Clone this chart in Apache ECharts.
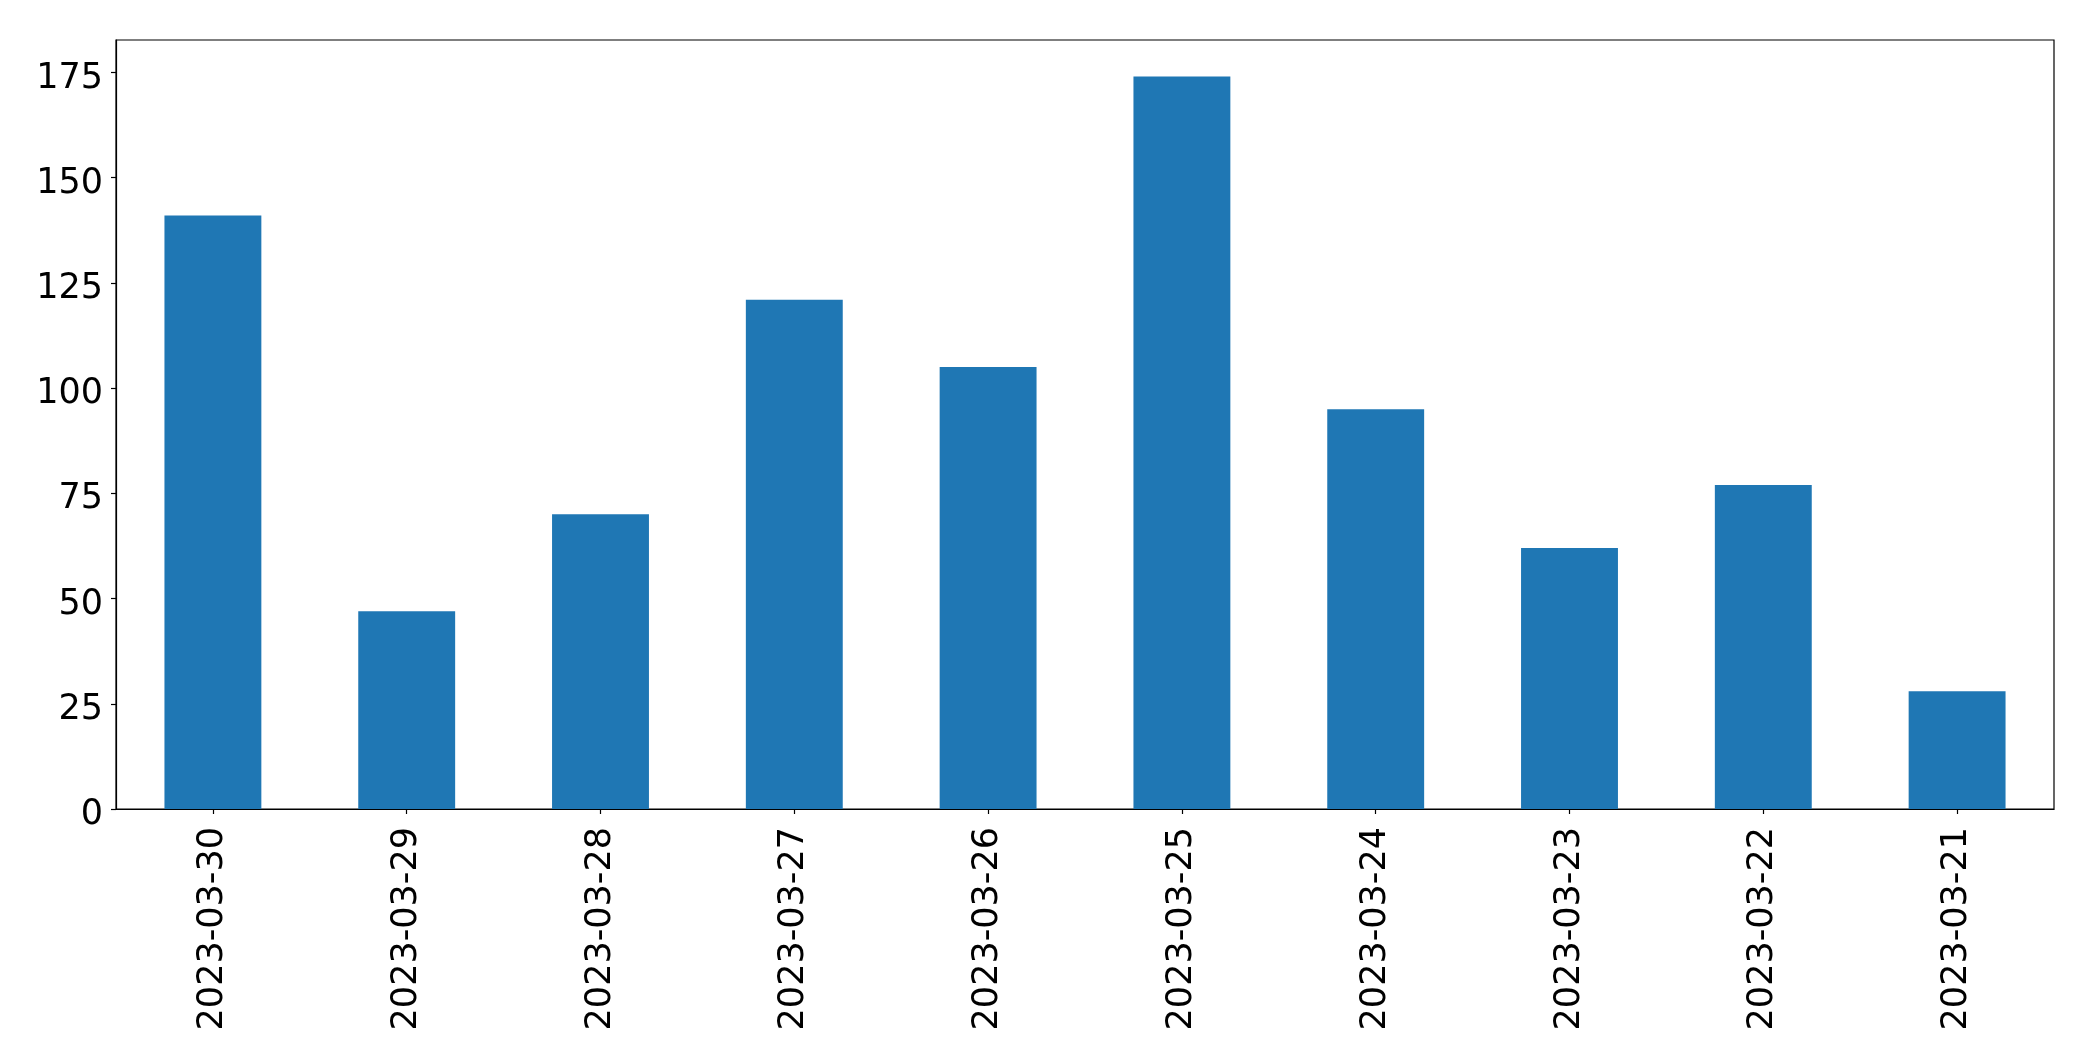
<!DOCTYPE html>
<html>
<head>
<meta charset="utf-8">
<script src="https://cdn.jsdelivr.net/npm/echarts@6/dist/echarts.min.js"></script>
<style>
html, body { margin: 0; padding: 0; background: #fff; }
#chart { width: 2093px; height: 1061px; }
</style>
</head>
<body>
<div id="chart"></div>
<script>
const categories = ['2023-03-30', '2023-03-29', '2023-03-28', '2023-03-27', '2023-03-26', '2023-03-25', '2023-03-24', '2023-03-23', '2023-03-22', '2023-03-21'];
const values = [141, 47, 70, 121, 105, 174, 95, 62, 77, 28];
const yTicks = [0, 25, 50, 75, 100, 125, 150, 175];

const chart = echarts.init(document.getElementById('chart'), null, { renderer: 'canvas' });
const font = 'DejaVu Sans';
chart.setOption({
  animation: false,
  backgroundColor: '#ffffff',
  grid: {
    left: 116, right: 39, top: 40, bottom: 252,
    show: true, borderColor: '#000', borderWidth: 1.2, backgroundColor: 'transparent'
  },
  xAxis: {
    type: 'category',
    data: categories,
    boundaryGap: true,
    axisLine: { show: true, lineStyle: { color: '#000', width: 1.2 } },
    axisTick: { show: true, alignWithLabel: true, length: 5, lineStyle: { color: '#000', width: 1.2 } },
    axisLabel: { rotate: 90, fontFamily: font, fontSize: 35, color: '#000', margin: 18, interval: 0 },
    splitLine: { show: false }
  },
  yAxis: {
    type: 'value',
    min: 0,
    max: 182.7,
    interval: 25,
    axisLine: { show: true, lineStyle: { color: '#000', width: 1.2 } },
    axisTick: { show: true, length: 5, customValues: yTicks, lineStyle: { color: '#000', width: 1.2 } },
    axisLabel: {
      fontFamily: font, fontSize: 35, color: '#000', margin: 13, customValues: yTicks,
      formatter: function (v) { return '{a|' + v + '}'; },
      rich: { a: { fontFamily: font, fontSize: 35, color: '#000', padding: [12, 0, 0, 0] } }
    },
    splitLine: { show: false }
  },
  series: [{
    type: 'bar',
    data: values,
    barWidth: '50%',
    itemStyle: { color: '#1f77b4' }
  }]
});
</script>
</body>
</html>
